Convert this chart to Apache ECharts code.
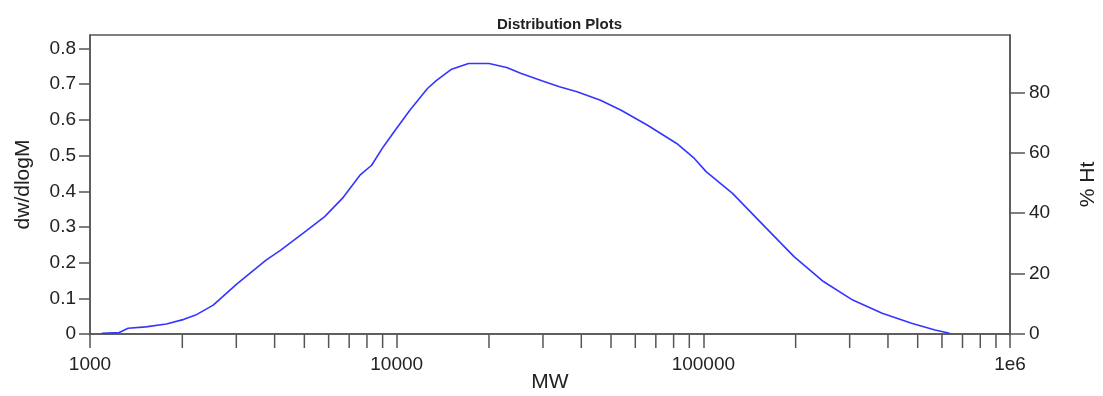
<!DOCTYPE html>
<html>
<head>
<meta charset="utf-8">
<script src="https://cdn.jsdelivr.net/npm/echarts@6/dist/echarts.min.js"></script>
<style>
html,body{margin:0;padding:0;background:#fff;}
#chart{width:1103px;height:396px;}
</style>
</head>
<body>
<div id="chart"></div>
<script>
// Molecular weight (x) and dw/dlogM (y)
const mw = [1092, 1246, 1331, 1521, 1774, 2025, 2210, 2522, 3008, 3750, 4188, 5107, 5825, 6650, 7590, 8285, 9050, 9890, 11040, 12600, 13460, 15030, 17150, 20000, 22840, 25490, 29740, 33940, 38740, 46210, 53940, 65790, 81880, 93500, 102100, 124500, 158600, 197600, 246400, 307100, 383000, 477500, 569300, 635300];
const dwdlogm = [0.002, 0.004, 0.016, 0.020, 0.028, 0.041, 0.053, 0.081, 0.140, 0.207, 0.235, 0.291, 0.329, 0.380, 0.445, 0.473, 0.525, 0.571, 0.627, 0.688, 0.710, 0.741, 0.758, 0.758, 0.747, 0.730, 0.710, 0.693, 0.679, 0.655, 0.627, 0.585, 0.534, 0.492, 0.455, 0.394, 0.301, 0.217, 0.147, 0.095, 0.058, 0.030, 0.011, 0.002];

// Tick labels
const leftTicks = [0, 0.1, 0.2, 0.3, 0.4, 0.5, 0.6, 0.7, 0.8];
const rightTicks = [0, 20, 40, 60, 80];
const xMinorTicks = [2000, 3000, 4000, 5000, 6000, 7000, 8000, 9000,
                     20000, 30000, 40000, 50000, 60000, 70000, 80000, 90000,
                     200000, 300000, 400000, 500000, 600000, 700000, 800000, 900000];

const axisColor = '#555';
const textColor = '#222';
const font = 'Liberation Sans, Arial, sans-serif';

const chart = echarts.init(document.getElementById('chart'), null, {renderer: 'canvas'});
chart.setOption({
  animation: false,
  backgroundColor: '#fff',
  title: {
    text: 'Distribution Plots',
    left: 492, top: 12,
    textStyle: {fontFamily: font, fontSize: 15, fontWeight: 'bold', color: textColor}
  },
  grid: {
    left: 90, right: 93, top: 35, bottom: 62,
    containLabel: false, outerBoundsMode: 'none',
    show: true, borderColor: axisColor, borderWidth: 1.5, backgroundColor: 'transparent'
  },
  xAxis: {
    type: 'log', logBase: 10, min: 1000, max: 1000000,
    name: 'MW', nameLocation: 'middle', nameGap: 38, nameMoveOverlap: false,
    nameTextStyle: {fontFamily: font, fontSize: 21, color: textColor},
    axisLine: {show: true, lineStyle: {color: axisColor, width: 1.5}},
    axisTick: {show: true, inside: false, length: 14, lineStyle: {color: axisColor, width: 1.5}},
    axisLabel: {
      fontFamily: font, fontSize: 19, color: textColor, margin: 21,
      formatter: v => (v >= 1000000 ? '1e6' : String(Math.round(v)))
    },
    splitLine: {show: false},
    minorTick: {show: false}
  },
  yAxis: [{
    type: 'value', min: 0, max: 0.838, position: 'left',
    name: 'dw/dlogM', nameLocation: 'middle', nameGap: 56, nameRotate: 90, nameMoveOverlap: false,
    nameTextStyle: {fontFamily: font, fontSize: 21, color: textColor},
    axisLine: {show: true, lineStyle: {color: axisColor, width: 1.5}},
    axisTick: {show: true, length: 11, customValues: leftTicks, lineStyle: {color: axisColor, width: 1.5}},
    axisLabel: {fontFamily: font, fontSize: 19, color: textColor, margin: 14, customValues: leftTicks,
      formatter: v => (v === 0 ? '0' : v.toFixed(1))},
    splitLine: {show: false}
  }, {
    type: 'value', min: 0, max: 99, position: 'right',
    name: '% Ht', nameLocation: 'middle', nameGap: 68, nameRotate: 90, nameMoveOverlap: false,
    nameTextStyle: {fontFamily: font, fontSize: 21, color: textColor},
    axisLine: {show: true, lineStyle: {color: axisColor, width: 1.5}},
    axisTick: {show: true, length: 15, customValues: rightTicks, lineStyle: {color: axisColor, width: 1.5}},
    axisLabel: {fontFamily: font, fontSize: 19, color: textColor, margin: 19, customValues: rightTicks},
    splitLine: {show: false}
  }],
  series: [{
    type: 'line',
    data: mw.map((m, i) => [m, dwdlogm[i]]),
    yAxisIndex: 0,
    showSymbol: false,
    smooth: false,
    lineStyle: {color: '#3535ff', width: 1.6},
    z: 3
  }, {
    type: 'custom',
    data: xMinorTicks.map(v => [v, 0]),
    yAxisIndex: 0,
    clip: false,
    silent: true,
    renderItem: function (params, api) {
      const p = api.coord([api.value(0), 0]);
      return {
        type: 'line',
        shape: {x1: p[0], y1: p[1], x2: p[0], y2: p[1] + 14},
        style: {stroke: axisColor, lineWidth: 1.5}
      };
    },
    z: 2
  }]
});
</script>
</body>
</html>
